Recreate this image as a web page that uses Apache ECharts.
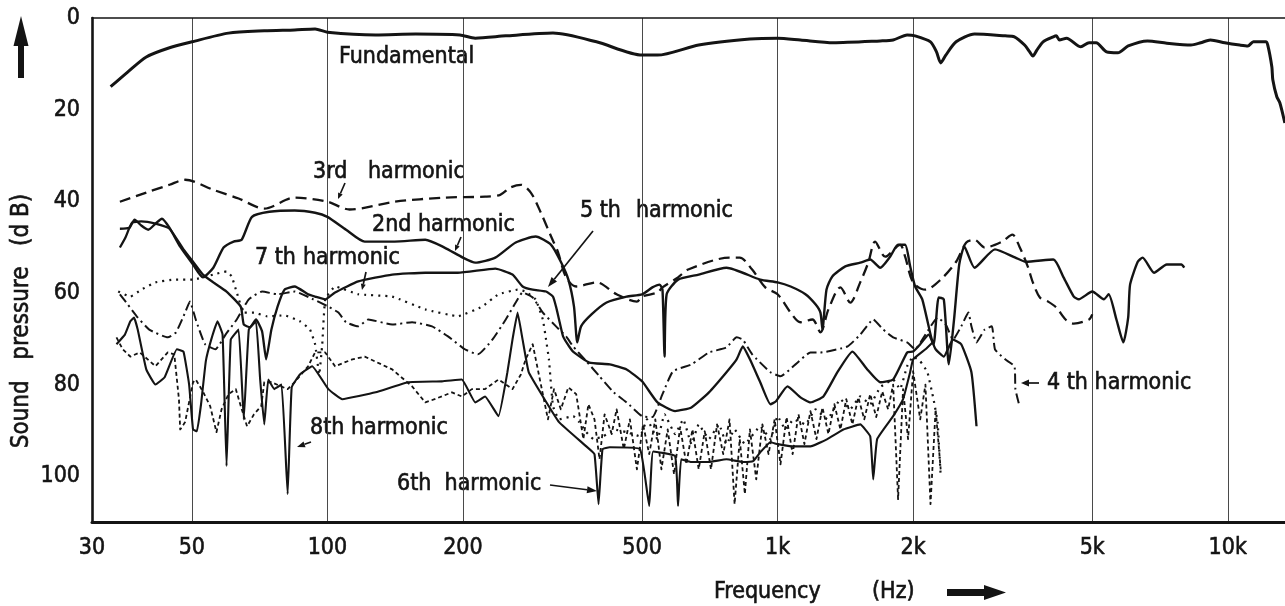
<!DOCTYPE html>
<html>
<head>
<meta charset="utf-8">
<title>Harmonic distortion</title>
<script src="https://cdn.jsdelivr.net/npm/echarts@6/dist/echarts.min.js"></script>
<style>
  html, body { margin: 0; padding: 0; background: #fff; }
  #chart { width: 1285px; height: 606px; }
</style>
</head>
<body>
<div id="chart"></div>
<script>
// Axis definitions
const FREQ_MIN = 30, FREQ_MAX = 13400;
const DB_MIN = 0, DB_MAX = 110;
const FREQ_TICKS = [30, 50, 100, 200, 500, 1000, 2000, 5000, 10000];
const FREQ_TICK_LABELS = ['30', '50', '100', '200', '500', '1k', '2k', '5k', '10k'];
const FREQ_GRID = [50, 100, 200, 500, 1000, 2000, 5000, 10000];
const DB_TICKS = [0, 20, 40, 60, 80, 100];

// Measured curves: [frequency (Hz), level (dB below reference)]
const fundamental = [[33.0,15.0],[36.0,11.8],[39.6,8.5],[44.6,6.5],[50,5.2],[60.3,3.3],[72.4,2.8],[84.6,2.6],[93.9,2.4],[100,3.1],[128,3.7],[157,3.5],[197,3.7],[213,4.4],[249,3.9],[317,3.3],[396,5.2],[500,8.1],[541,8.1],[668,5.9],[868,4.6],[1000,4.4],[1124,4.8],[1330,5.4],[1690,5.0],[1806,4.8],[1940,3.7],[2021,3.9],[2186,5.2],[2254,7.4],[2303,9.8],[2364,8.1],[2492,5.2],[2738,3.5],[3203,3.9],[3358,4.1],[3537,5.9],[3631,7.4],[3690,8.3],[3767,7.0],[3888,5.2],[4097,4.1],[4161,3.9],[4227,4.8],[4385,4.4],[4716,6.3],[4919,5.4],[5100,5.4],[5380,7.4],[5700,7.6],[6008,6.1],[6633,5.0],[7321,5.5],[8285,5.9],[8706,5.4],[9147,4.8],[9849,5.4],[10630,5.9],[11080,6.1],[11400,5.2],[12140,5.2],[12270,5.9],[12530,10.7],[12590,13.5],[12850,17.2],[13050,18.5],[13390,22.9]];

const harmonic2 = [[34.6,46.0],[36.3,45.8],[37.3,44.0],[38.6,45.3],[40.0,46.2],[41.5,44.9],[42.9,43.8],[44.6,45.8],[47.1,49.9],[50.3,53.8],[52.9,56.6],[55.8,54.5],[58.8,50.1],[61.9,48.8],[64.5,48.4],[68.0,43.4],[74.3,42.3],[84.6,42.0],[93.9,42.5],[100,43.4],[110,46.2],[121,48.8],[141,48.8],[165,48.4],[182,50.1],[200,52.3],[213,53.4],[236,52.3],[262,49.0],[290,47.7],[314,49.5],[330,53.2],[343,57.1],[353,63.0],[359,70.8],[366,67.3],[386,64.7],[417,62.1],[462,60.8],[500,60.3],[527,58.8],[547,58.2],[555,59.3],[561,73.9],[567,60.3],[601,57.1],[668,56.0],[770,54.5],[915,57.1],[1000,57.7],[1069,58.6],[1153,60.3],[1214,62.5],[1245,64.3],[1258,68.0],[1284,59.3],[1323,56.4],[1414,54.2],[1526,53.4],[1606,52.7],[1690,54.5],[1778,52.1],[1852,49.5],[1920,49.5],[1970,54.2],[2021,58.6],[2096,61.4],[2220,71.2],[2280,61.0],[2340,61.4],[2401,75.6],[2466,65.8],[2532,53.8],[2599,49.9],[2738,54.5],[3040,50.5],[3375,52.3],[3557,53.2],[4097,52.7],[4317,56.6],[4549,60.8],[4667,61.4],[5000,59.7],[5306,61.4],[5438,60.3],[5658,65.8],[5861,70.8],[6008,65.4],[6067,58.2],[6310,53.2],[6470,52.3],[6859,55.6],[7321,53.8],[7886,53.8],[8004,54.5]];

const harmonic3 = [[34.6,40.1],[39.6,38.1],[44.6,36.4],[48.3,35.3],[55.8,37.5],[63.5,39.4],[72.4,41.6],[84.6,39.2],[100,40.1],[112,41.8],[141,40.1],[182,39.2],[224,39.0],[242,38.6],[255,37.0],[269,36.4],[283,38.1],[298,42.5],[314,47.7],[325,51.0],[339,56.6],[357,58.6],[396,57.7],[439,60.3],[487,61.9],[500,60.8],[541,59.9],[555,58.8],[601,56.6],[633,54.9],[782,52.3],[824,52.3],[878,54.9],[939,58.8],[1000,60.3],[1069,64.3],[1124,66.4],[1195,65.8],[1245,68.6],[1297,63.6],[1379,58.8],[1450,62.1],[1526,57.7],[1590,53.4],[1647,48.8],[1734,52.1],[1871,49.5],[1920,52.1],[2000,57.7],[2130,59.3],[2303,57.1],[2492,53.2],[2625,49.0],[2738,48.4],[2885,50.1],[3153,48.8],[3323,47.3],[3446,49.9],[3594,54.2],[3690,57.7],[3825,61.0],[3990,61.9],[4161,63.2],[4362,65.8],[4549,66.7],[4919,65.8],[5000,64.7]];

const harmonic4 = [[34.6,60.3],[36.0,62.5],[37.7,65.1],[40.2,68.0],[44.2,69.7],[46.1,68.6],[48.3,64.3],[49.5,61.9],[51.0,65.8],[53.5,71.2],[56.4,72.3],[59.4,69.1],[62.9,65.8],[66.9,61.4],[71.6,59.7],[77.5,60.3],[84.6,59.7],[93.0,61.4],[100.5,63.0],[105.8,64.3],[110,66.4],[117.1,67.3],[123.2,65.8],[139.3,66.9],[154.2,66.4],[170.8,67.3],[185.3,69.5],[202,72.3],[215.9,73.4],[232.5,70.2],[249,65.8],[262,62.1],[271.4,59.9],[285.8,61.0],[301,64.3],[322,67.3],[339,69.5],[351.6,71.7],[376,74.9],[402.2,78.2],[432.5,81.7],[462,83.9],[500,86.9],[527,87.1],[555,82.1],[585.8,77.1],[643.6,75.6],[704,73.0],[770,71.9],[811,69.7],[837,70.2],[878,73.4],[964,77.3],[1015,78.2],[1096,75.6],[1183,73.0],[1245,73.0],[1429,71.7],[1526,69.1],[1631,65.8],[1716,68.0],[1806,69.7],[1940,70.8],[2021,72.3],[2130,69.1],[2267,65.4],[2364,66.9],[2453,70.2],[2558,67.3],[2653,64.3],[2695,67.3],[2766,70.8],[2885,68.0],[2992,67.3],[3040,72.3],[3203,74.5],[3358,76.0],[3375,81.0],[3446,84.7]];

const harmonic5 = [[34.6,50.1],[35.6,47.9],[36.8,44.7],[38.6,44.4],[41.5,44.9],[44.6,46.0],[47.9,50.5],[50.3,53.2],[52.9,56.0],[55.8,57.7],[59.7,59.7],[64.2,63.0],[65.2,66.9],[67.3,67.5],[69.4,65.8],[71.6,68.4],[73.1,74.5],[75.1,68.0],[77.5,63.0],[80.3,59.3],[84.6,58.6],[90.6,60.3],[93.9,60.8],[98.9,61.4],[104,59.9],[117.1,57.5],[139.3,56.0],[165,55.6],[194.9,55.6],[236,54.7],[257.7,56.0],[271.4,58.6],[285.8,59.3],[306,59.7],[317,60.8],[322,63.0],[327,65.8],[333.8,69.5],[344.4,71.7],[353,73.0],[381.9,75.2],[423.7,75.6],[462,76.7],[500,79.3],[541,83.9],[592,85.8],[643.6,85.0],[704,81.7],[770,77.3],[811,74.5],[837,71.7],[868,74.5],[915,79.5],[964,84.3],[990.5,83.7],[1052,80.4],[1124,82.8],[1183,83.9],[1264,82.6],[1358,77.3],[1466,72.8],[1582,76.7],[1690,79.5],[1806,78.9],[1940,73.0],[2000,72.8],[2074,71.2],[2164,69.1],[2244,72.3],[2340,73.9],[2453,70.2],[2558,71.2],[2695,77.3],[2766,89.1]];

const harmonic6 = [[34.0,71.2],[35.5,69.1],[36.5,66.2],[37.2,65.4],[37.9,68.0],[39.6,76.7],[41.5,80.0],[43.5,78.4],[46.3,72.3],[47.9,72.8],[49.3,80.0],[50.3,89.8],[51.3,90.2],[52.4,84.3],[53.7,74.9],[55.2,70.2],[57.0,66.2],[58.5,69.1],[59.7,97.8],[61.0,70.2],[63.5,68.0],[65.2,87.6],[66.9,68.0],[69.4,66.2],[70.9,78.9],[72.4,88.7],[73.9,78.9],[76.2,81.0],[79.1,80.0],[81.6,103.9],[83.3,80.6],[86.9,77.8],[92.5,76.0],[100.5,81.0],[107.9,83.2],[128,81.7],[151.1,79.5],[179.7,79.3],[198.9,78.9],[213,83.9],[224,82.6],[239.9,86.9],[251.1,77.3],[257.7,70.2],[264.5,64.3],[271.4,70.2],[280.0,77.3],[301,82.6],[327,88.2],[376,93.5],[392,95.2],[400.2,106.1],[408.4,94.1],[423.7,93.7],[494.8,94.1],[518.6,106.5],[529.3,94.6],[592,95.6],[601,106.5],[610.7,96.3],[643.6,96.9],[704,96.9],[770,96.3],[837,96.9],[882.6,96.7],[915,94.8],[964,92.6],[1000,93.0],[1085,93.5],[1183,93.5],[1290,91.9],[1400,89.8],[1526,88.7],[1606,91.3],[1631,100.7],[1664,91.9],[1806,86.9],[1900,83.2],[1970,77.3],[2000,74.5],[2130,72.3],[2209,70.8]];

const harmonic7 = [[34.3,59.7],[36.5,60.8],[38.6,59.3],[41.5,57.7],[45.7,57.1],[50.3,57.1],[55.8,56.0],[59.7,55.3],[61.3,56.4],[62.9,59.9],[65.2,64.3],[68.7,64.3],[73.5,65.1],[80.3,64.9],[86.9,66.2],[91.5,68.0],[93.9,71.2],[95.9,77.8],[97.4,71.2],[98.9,61.4],[104,58.6],[117.1,60.3],[139.3,60.8],[165,63.6],[194.9,65.1],[220.5,63.0],[239.9,60.3],[264.5,59.3],[275.6,59.7],[290,61.4],[301,65.8],[306,70.2],[310.5,74.5],[317,84.7],[327,87.6],[351.6,86.9],[362.6,88.2],[376,90.4],[389.9,91.9],[410.6,91.3],[432.5,89.8],[462,90.4],[494.8,91.3],[513,87.6],[541,91.9],[561,86.5],[592,90.8],[617.2,87.6],[643.6,93.0],[668,88.7],[704,91.9],[741,88.7],[770,93.0],[802.6,89.8],[845.9,93.0],[915,89.1],[964,91.9],[1000,86.9],[1041,89.8],[1085,87.6],[1153,88.7],[1214,85.4],[1290,87.6],[1379,83.2],[1450,85.4],[1526,82.6],[1606,84.3],[1690,80.6],[1806,78.9],[1871,81.0],[1940,76.0],[2000,73.9],[2074,74.9],[2152,77.3],[2220,83.2],[2267,88.2],[2303,100.0]];

const harmonic8 = [[34.0,69.7],[35.1,72.3],[36.5,73.9],[38.3,73.0],[41.5,76.0],[44.2,73.0],[45.7,73.4],[46.8,83.2],[47.1,89.8],[48.3,88.2],[50.3,79.5],[51.0,78.9],[52.9,81.5],[54.9,84.7],[56.7,90.4],[58.2,85.4],[60.3,82.1],[62.6,81.0],[64.2,84.7],[66.3,89.1],[68.7,86.5],[71.3,84.7],[72.4,79.5],[75.1,79.5],[81.6,81.0],[84.6,79.5],[90.6,76.0],[93.9,73.0],[98.9,73.0],[104,76.0],[113.6,74.5],[121,73.9],[139.3,76.7],[154.2,80.4],[165,83.9],[173,83.2],[189.1,81.7],[198.9,82.6],[209.4,81.0],[224,81.0],[239.9,78.9],[257.7,81.0],[269,77.8],[275.6,74.5],[285.8,71.2],[298,80.0],[309,87.6],[318.7,81.0],[330,85.4],[343,80.6],[357,82.1],[370.3,91.9],[380,84.3],[392,87.6],[402.2,96.3],[412.8,86.5],[428,90.8],[439,85.4],[455.4,94.1],[469.8,87.6],[487,98.5],[502.6,88.7],[518.6,95.2],[535,87.6],[552,98.5],[570,89.8],[588.9,99.6],[607.5,89.3],[627,97.4],[647,89.8],[668,98.5],[689,90.2],[711.3,98.5],[733.8,88.7],[757.3,95.2],[782,87.6],[802.6,106.1],[824,91.9],[845.9,103.9],[868,89.8],[896.6,100.7],[925.3,88.7],[954.8,95.2],[985.2,87.6],[1015,97.4],[1047,87.1],[1080,95.2],[1113,86.5],[1147,93.0],[1183,85.8],[1220,91.9],[1258,85.0],[1297,90.8],[1337,84.3],[1379,89.8],[1421,83.2],[1466,88.7],[1511,82.8],[1558,87.6],[1606,82.1],[1656,87.1],[1708,81.5],[1760,85.4],[1806,80.0],[1852,105.0],[1900,81.0],[1949,91.9],[2000,77.1],[2074,87.6],[2130,80.0],[2186,106.1],[2244,85.4],[2303,98.5]];

const INK = '#141414';
const FONT = "'DejaVu Sans Condensed', 'DejaVu Sans', sans-serif";
const FONT_SIZE = 23;
const lg = Math.log10;

function curve(name, data, width, dash, smooth) {
  return {
    name: name,
    type: 'line',
    data: data.map(function (p) { return [lg(p[0]), p[1]]; }),
    showSymbol: false,
    symbol: 'none',
    smooth: smooth || false,
    lineStyle: { color: INK, width: width, type: dash || 'solid', cap: 'butt', join: 'round' },
    silent: true
  };
}

// annotation text, slightly stroked to match the heavy lettering
function text(str, x, y, opts) {
  opts = opts || {};
  return {
    type: 'text', x: x, y: y, silent: true, rotation: opts.rotation || 0,
    style: {
      text: str, fontSize: opts.size || FONT_SIZE, fontFamily: FONT, fill: INK,
      stroke: INK, lineWidth: 0.6,
      verticalAlign: 'middle', align: opts.align || 'left'
    }
  };
}

function pointer(x1, y1, x2, y2, len, half) {
  len = len || 9; half = half || 3.5;
  const a = Math.atan2(y2 - y1, x2 - x1);
  const bx = x2 - len * Math.cos(a), by = y2 - len * Math.sin(a);
  const px = -Math.sin(a) * half, py = Math.cos(a) * half;
  return [
    { type: 'line', silent: true, shape: { x1: x1, y1: y1, x2: bx, y2: by }, style: { stroke: INK, lineWidth: 1.7 } },
    { type: 'polygon', silent: true, shape: { points: [[x2, y2], [bx + px, by + py], [bx - px, by - py]] }, style: { fill: INK } }
  ];
}

function freqLabel(v) {
  for (let i = 0; i < FREQ_TICKS.length; i++) {
    if (Math.abs(lg(FREQ_TICKS[i]) - v) < 1e-6) return FREQ_TICK_LABELS[i];
  }
  return '';
}

const chart = echarts.init(document.getElementById('chart'), null, { renderer: 'canvas' });

const graphics = [].concat(
  [
    // level arrow on the left
    { type: 'polygon', silent: true, shape: { points: [[21, 16], [13.5, 46], [28.5, 46]] }, style: { fill: INK } },
    { type: 'rect', silent: true, shape: { x: 18, y: 44, width: 6, height: 34 }, style: { fill: INK } },
    text('Sound   pressure   (d B)', 22, 321, { rotation: Math.PI / 2, align: 'center', size: 24 }),
    // frequency title and arrow
    text('Frequency', 714, 592),
    text('(Hz)', 872, 592),
    { type: 'rect', silent: true, shape: { x: 947, y: 589, width: 42, height: 7 }, style: { fill: INK } },
    { type: 'polygon', silent: true, shape: { points: [[1006, 592.5], [984, 585], [984, 600]] }, style: { fill: INK } },
    // curve annotations
    text('Fundamental', 339, 57),
    text('3rd', 313, 172),
    text('harmonic', 368, 172),
    text('2nd harmonic', 372, 225),
    text('5 th', 580, 211),
    text('harmonic', 636, 211),
    text('7 th', 255, 258),
    text('harmonic', 303, 258),
    text('8th harmonic', 310, 428),
    text('6th  harmonic', 397, 484),
    text('4 th harmonic', 1047, 383)
  ],
  pointer(345, 183, 338, 199, 6, 2.5),
  pointer(461, 237, 455, 251, 6, 2.5),
  pointer(593, 231, 548, 287, 10, 3.5),
  pointer(366, 272, 362, 290, 6, 2.5),
  pointer(311, 442, 297, 447, 8, 3),
  pointer(550, 485, 597, 491, 10, 3.5),
  pointer(1039, 383, 1021, 383, 8, 3.5)
);

chart.setOption({
  animation: false,
  backgroundColor: '#fff',
  grid: { left: 92, right: 0, top: 18, bottom: 84, containLabel: false, outerBoundsMode: 'none' },
  xAxis: [
    {
      type: 'value',
      min: lg(FREQ_MIN),
      max: lg(FREQ_MAX),
      axisLine: { show: true, onZero: false, lineStyle: { color: INK, width: 3 } },
      axisTick: { show: false, customValues: FREQ_GRID.map(lg) },
      axisLabel: {
        customValues: FREQ_TICKS.map(lg),
        formatter: freqLabel,
        color: INK, fontSize: FONT_SIZE, fontFamily: FONT, margin: 15,
        textBorderColor: INK, textBorderWidth: 0.6
      },
      splitLine: { show: true, lineStyle: { color: '#4a4a4a', width: 1 } }
    },
    {
      type: 'value',
      position: 'top',
      min: lg(FREQ_MIN),
      max: lg(FREQ_MAX),
      axisLine: { show: true, onZero: false, lineStyle: { color: INK, width: 1.6 } },
      axisTick: { show: false },
      axisLabel: { show: false },
      splitLine: { show: false }
    }
  ],
  yAxis: {
    type: 'value',
    inverse: true,
    min: DB_MIN,
    max: DB_MAX,
    axisLine: { show: true, onZero: false, lineStyle: { color: INK, width: 2.6 } },
    axisTick: { show: false },
    axisLabel: {
      customValues: DB_TICKS, color: INK, fontSize: FONT_SIZE, fontFamily: FONT, margin: 12,
      textBorderColor: INK, textBorderWidth: 0.6
    },
    splitLine: { show: false }
  },
  series: [
    curve('Fundamental', fundamental, 3.0, 'solid', 0.25),
    curve('2nd harmonic', harmonic2, 2.4, 'solid', 0.2),
    curve('3rd harmonic', harmonic3, 2.3, [11, 6], 0.3),
    curve('4th harmonic', harmonic4, 2.0, [10, 4, 2, 4], 0.15),
    curve('5th harmonic', harmonic5, 2.3, 'solid', 0.15),
    curve('6th harmonic', harmonic6, 2.1, 'solid', 0.1),
    curve('7th harmonic', harmonic7, 2.2, [2, 5], 0.1),
    curve('8th harmonic', harmonic8, 1.8, [4, 3], false)
  ],
  graphic: graphics
});
</script>
</body>
</html>
